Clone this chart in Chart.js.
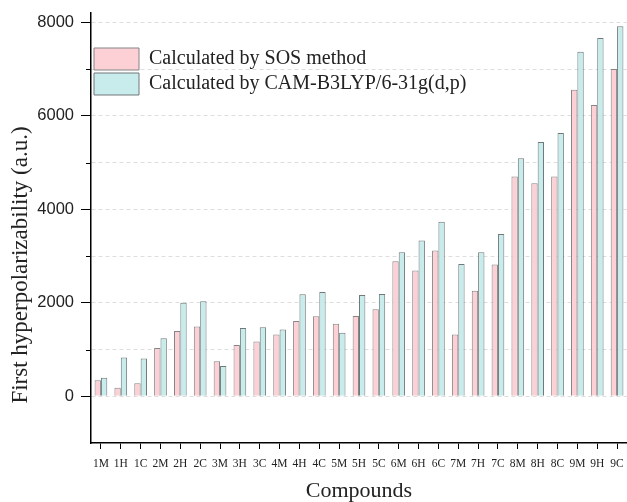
<!DOCTYPE html>
<html>
<head>
<meta charset="utf-8">
<title>First hyperpolarizability</title>
<script src="https://cdn.jsdelivr.net/npm/chart.js@4.4.0/dist/chart.umd.min.js"></script>
<style>
  html, body { margin: 0; padding: 0; background: #fff; }
  #chart { display: block; }
</style>
</head>
<body>
<canvas id="chart" width="627" height="502"></canvas>
<script>
// Compound labels along the x axis
const compounds = ['1M', '1H', '1C', '2M', '2H', '2C', '3M', '3H', '3C', '4M', '4H', '4C', '5M', '5H', '5C',
    '6M', '6H', '6C', '7M', '7H', '7C', '8M', '8H', '8C', '9M', '9H', '9C'];

// First hyperpolarizability (a.u.) for each compound
const sosValues = [340, 180, 280, 1035, 1395, 1495, 750, 1095, 1170, 1320, 1610, 1710, 1550, 1715, 1860,
    2890, 2690, 3120, 1320, 2260, 2820, 4700, 4560, 4700, 6560, 6230, 7000];
const camValues = [395, 830, 810, 1240, 2000, 2035, 650, 1460, 1475, 1430, 2180, 2230, 1360, 2165, 2190,
    3080, 3330, 3735, 2830, 3080, 3470, 5095, 5440, 5630, 7370, 7665, 7915];

const seriesLabels = ['Calculated by SOS method', 'Calculated by CAM-B3LYP/6-31g(d,p)'];

// Y axis range and tick positions (labels only on every second tick)
const yMin = -1000;
const yMax = 8200;
const yTicks = [-1000, 0, 1000, 2000, 3000, 4000, 5000, 6000, 7000, 8000];
const yTitle = 'First hyperpolarizability (a.u.)';

const serif = "'Liberation Serif', 'Times New Roman', serif";
const sans = "'Liberation Sans', Arial, sans-serif";

const isMajor = v => v % 2000 === 0;

// Short minor tick marks on the y axis between labelled ticks,
// plus the rotated y axis title
const axisExtras = {
    id: 'axisExtras',
    afterDraw(chart) {
        const y = chart.scales.y;
        const ctx = chart.ctx;
        ctx.save();
        ctx.strokeStyle = '#000';
        ctx.lineWidth = 1;
        y.ticks.forEach(t => {
            if (isMajor(t.value) || t.value <= yMin) return;
            const py = Math.round(y.getPixelForValue(t.value)) + 0.5;
            ctx.beginPath();
            ctx.moveTo(y.right - 5, py);
            ctx.lineTo(y.right, py);
            ctx.stroke();
        });

        ctx.translate(21, 265);
        ctx.rotate(-Math.PI / 2);
        ctx.fillStyle = '#222';
        ctx.font = '23px ' + serif;
        ctx.textAlign = 'center';
        ctx.textBaseline = 'middle';
        ctx.fillText(yTitle, 0, 0);
        ctx.restore();
    }
};

const ctx = document.getElementById('chart').getContext('2d');
new Chart(ctx, {
    type: 'bar',
    data: {
        labels: compounds,
        datasets: [{
            label: seriesLabels[0],
            data: sosValues,
            backgroundColor: '#fdd0d6',
            borderColor: '#858585',
            borderWidth: 1
        }, {
            label: seriesLabels[1],
            data: camValues,
            backgroundColor: '#c8ecec',
            borderColor: '#707878',
            borderWidth: 1
        }]
    },
    options: {
        responsive: false,
        animation: false,
        devicePixelRatio: 1,
        categoryPercentage: 0.64,
        barPercentage: 1.0,
        layout: { padding: { top: 13, right: 0, bottom: 0, left: 0 } },
        plugins: {
            tooltip: { enabled: false },
            legend: {
                position: 'chartArea',
                align: 'start',
                title: { display: true, text: ' ', font: { size: 10 }, padding: { top: 23, bottom: 10 } },
                labels: {
                    boxWidth: 45,
                    boxHeight: 22,
                    padding: 3,
                    color: '#222',
                    font: { family: serif, size: 20 }
                }
            }
        },
        scales: {
            x: {
                // bars run right up to the canvas edge
                afterFit: scale => {
                    scale.height = 59;
                    scale.paddingLeft = 0;
                    scale.paddingRight = 0;
                },
                grid: {
                    display: true,
                    drawOnChartArea: false,
                    drawTicks: true,
                    offset: false,
                    tickLength: 6,
                    tickColor: '#000'
                },
                border: { display: true, color: '#000', width: 1.5 },
                ticks: {
                    autoSkip: false,
                    maxRotation: 0,
                    padding: 8,
                    color: '#222',
                    font: { family: serif, size: 11.5 }
                },
                title: {
                    display: true,
                    text: 'Compounds',
                    color: '#222',
                    font: { family: serif, size: 22, lineHeight: 1 },
                    padding: { top: 0, bottom: 0 }
                }
            },
            y: {
                min: yMin,
                max: yMax,
                afterFit: scale => {
                    scale.width = 91;
                    scale.paddingTop = 0;
                    scale.paddingBottom = 0;
                },
                afterBuildTicks: scale => { scale.ticks = yTicks.map(v => ({ value: v })); },
                grid: {
                    color: c => (c.tick && c.tick.value <= yMin) ? 'rgba(0,0,0,0)' : 'rgba(0,0,0,0.13)',
                    tickColor: c => (c.tick && isMajor(c.tick.value)) ? '#000' : 'rgba(0,0,0,0)',
                    tickLength: 10
                },
                border: { display: true, color: '#000', width: 1.5, dash: [4, 3] },
                ticks: {
                    autoSkip: false,
                    padding: 7,
                    color: '#222',
                    font: { family: sans, size: 16.5 },
                    callback: v => isMajor(v) ? v : ''
                },
                title: { display: false }
            }
        }
    },
    plugins: [axisExtras]
});
</script>
</body>
</html>
